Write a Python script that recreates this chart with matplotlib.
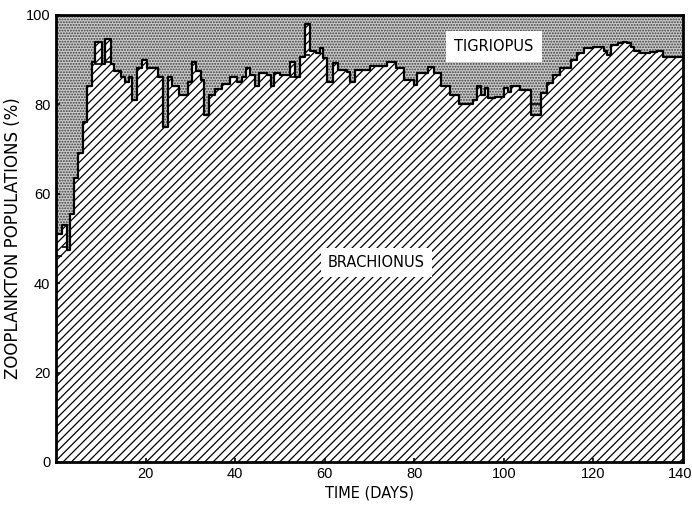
import matplotlib.pyplot as plt

# step data: day where each step starts, % Brachionus (rest up to 100 is Tigriopus)
step_days = [0, 1.4, 2.5, 3.2, 3.9, 5, 6, 7, 8, 8.8, 10.2, 10.9, 12.2, 13, 14.5,
             15.5, 16.3, 17, 18, 19.2, 20.3, 22.8, 23.8, 25, 26, 27.5, 29.5, 30.3,
             31.3, 32.3, 33.1, 34.2, 35.5, 37, 38.8, 40.5, 41.5, 42.5, 43.3, 44.5,
             45.3, 47, 48, 48.7, 50, 52.3, 53.4, 54.5, 55.6, 56.8, 58, 59, 59.7,
             60.5, 61.8, 63, 65, 65.7, 66.8, 70, 74, 76, 77.6, 80, 80.7, 83, 84.5,
             86, 88, 90, 93, 94, 95, 95.8, 96.5, 98, 100, 101, 101.7, 103.7, 106,
             108.2, 109.7, 111, 112.6, 115, 116.4, 118, 120, 122.3, 123, 124, 125.4,
             126.5, 127.6, 128.3, 129, 130.5, 132.7, 134.3, 135.6]
brachionus = [51, 53, 47.5, 55.5, 63.5, 69, 76, 84, 89.5, 94, 89, 94.5, 89, 87.5, 86,
              85, 86, 81, 88, 90, 88, 86, 75, 86, 84, 82, 85, 89.5,
              87.5, 85.5, 77.5, 82, 83.5, 84.5, 86, 85, 86, 88, 86.5, 84,
              87, 86.5, 84, 87, 86.5, 89.5, 86, 90.5, 98, 92, 91.5, 92.6, 90.4,
              85, 89.3, 87.7, 87.2, 85, 87.7, 88.6, 89.5, 88, 85.5, 84.3, 87, 88.4, 87,
              84, 82, 80, 81, 84, 82, 83.6, 81.4, 81.7, 83.6, 82.8, 84, 83.2, 77.6,
              82.5, 84.8, 86.6, 88, 90, 91.5, 92.6, 92.8, 92, 91, 93.3, 93.7,
              94, 93.7, 92.8, 92, 91.5, 91.7, 92, 90.6]
end_day = 140

# small boxes drawn inside the curve (start, end, lower level)
box_start = [0, 1.4, 8.8, 10.9, 52.3, 55.6, 106]
box_end = [1.4, 2.5, 10.2, 12.2, 53.4, 56.8, 108.2]
box_low = [46, 48, 89, 89.5, 86, 91, 80]

x_ticks = [20, 40, 60, 80, 100, 120, 140]
y_ticks = [0, 20, 40, 60, 80, 100]

x = step_days + [end_day]
y = brachionus + [brachionus[-1]]

plt.rcParams['hatch.linewidth'] = 0.9
plt.rcParams['font.family'] = 'DejaVu Sans'

fig = plt.figure(figsize=(6.92, 5.11), dpi=100)
ax = fig.add_axes([0.081, 0.096, 0.906, 0.875])

# Tigriopus (stippled) above, Brachionus (hatched) below
ax.fill_between(x, y, 100, step='post', facecolor='#cacaca', edgecolor='#3a3a3a',
                hatch='......', linewidth=0)
ax.fill_between(x, 0, y, step='post', facecolor='white', edgecolor='black',
                hatch='////', linewidth=0)
ax.step(x, y, where='post', color='black', lw=1.6)
ax.hlines(box_low, box_start, box_end, color='black', lw=1.2)

ax.text(97.8, 92.9, 'TIGRIOPUS', ha='center', va='center', fontsize=10.5,
        bbox=dict(facecolor='white', edgecolor='none', pad=6))
ax.text(71.5, 44.5, 'BRACHIONUS', ha='center', va='center', fontsize=10.5,
        bbox=dict(facecolor='white', edgecolor='none', pad=5))

ax.set_xlim(0, 140)
ax.set_ylim(0, 100)
ax.set_xticks(x_ticks)
ax.set_xticklabels([str(t) for t in x_ticks[:-1]] + [''])
ax.set_yticks(y_ticks)
ax.tick_params(direction='in', length=3, width=1.2, labelsize=10.5, pad=4)
for lab in ax.get_xticklabels() + ax.get_yticklabels():
    lab.set_family('Liberation Sans')
# last x label pulled in a little so it stays on the page
ax.annotate(str(x_ticks[-1]), xy=(x_ticks[-1], 0), xycoords='data',
            xytext=(-2, -4), textcoords='offset points', ha='center', va='top',
            fontsize=10.5, family='Liberation Sans')
for s in ax.spines.values():
    s.set_linewidth(2)

ax.set_xlabel('TIME (DAYS)', fontsize=10.5, labelpad=3)
ax.set_ylabel('ZOOPLANKTON POPULATIONS (%)', fontsize=12)
ax.yaxis.set_label_coords(-0.054, 0.5)

fig.savefig('out.png', dpi=100)
